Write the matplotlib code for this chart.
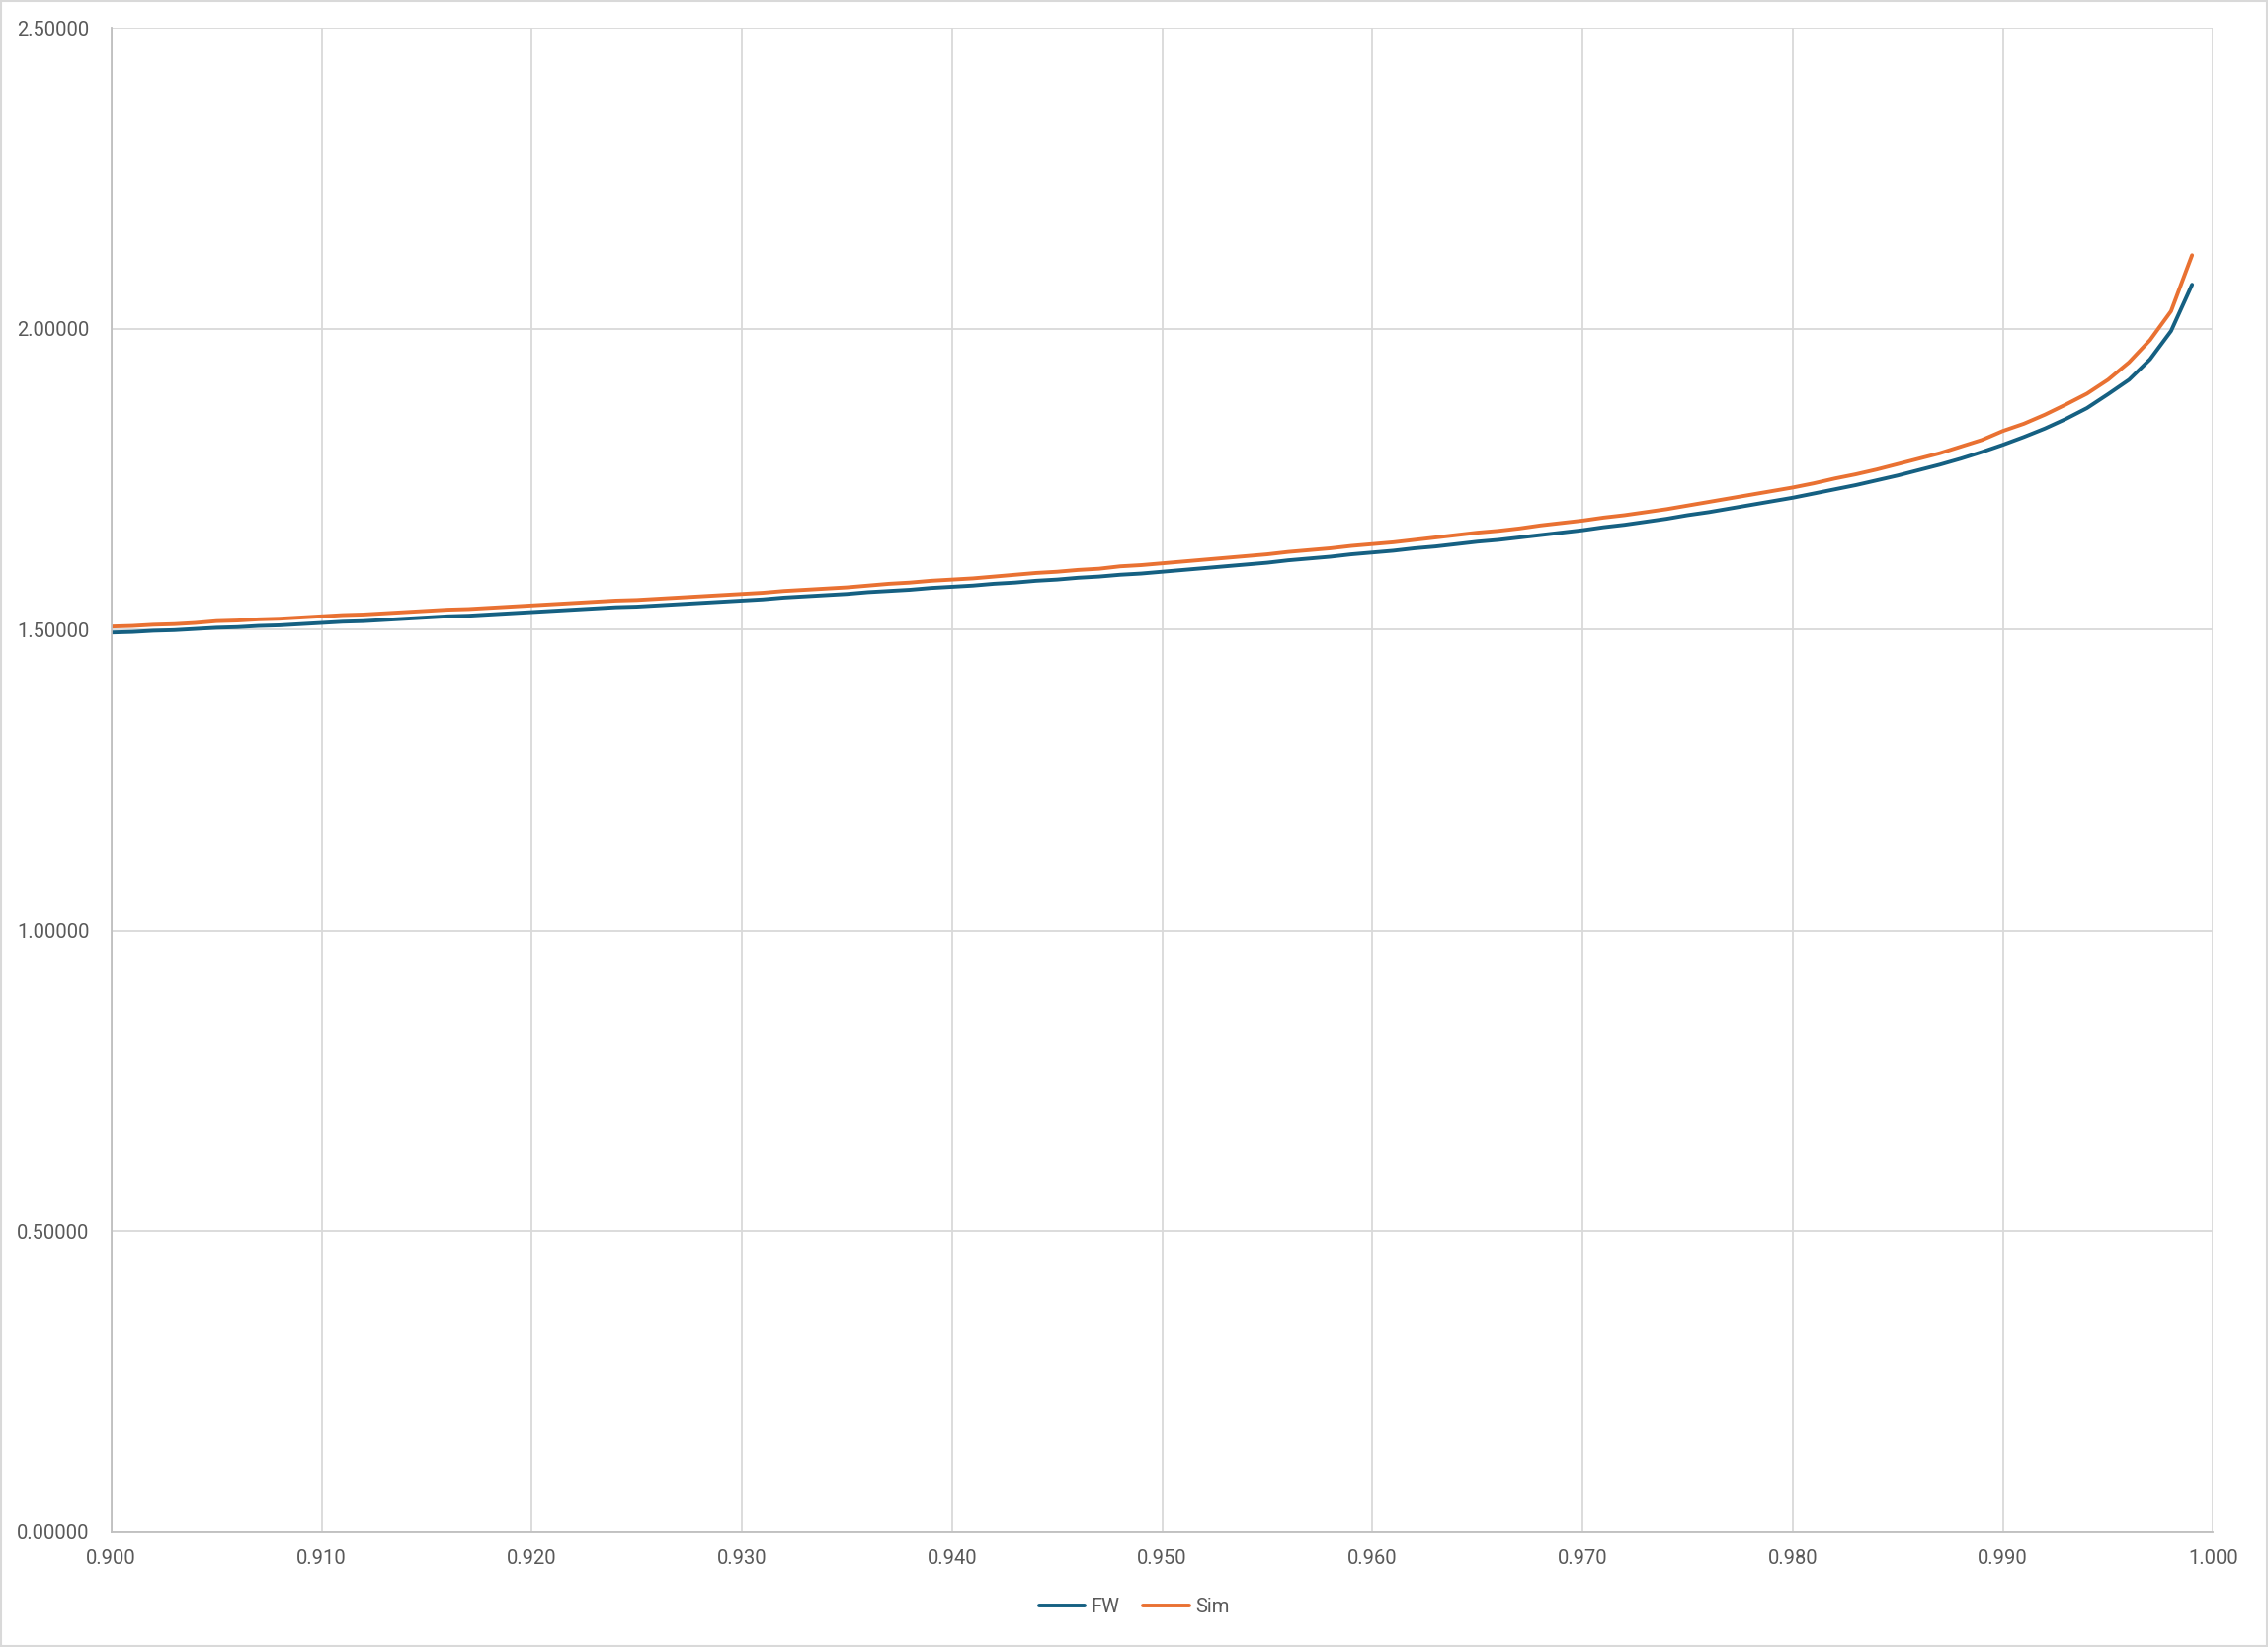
import numpy as np
import matplotlib
matplotlib.use("Agg")
import matplotlib.pyplot as plt
from matplotlib.patches import Rectangle
from matplotlib.ticker import FormatStrFormatter, MultipleLocator

# x values: 0.900 .. 0.999 step 0.001
x_vals = np.round(np.arange(900, 1000) / 1000.0, 3)

fw_vals = [
    1.495, 1.496, 1.498, 1.499, 1.501, 1.503, 1.504, 1.506, 1.507, 1.509,
    1.511, 1.513, 1.514, 1.516, 1.518, 1.520, 1.522, 1.523, 1.525, 1.527,
    1.529, 1.531, 1.533, 1.535, 1.537, 1.538, 1.540, 1.542, 1.544, 1.546,
    1.548, 1.550, 1.553, 1.555, 1.557, 1.559, 1.562, 1.564, 1.566, 1.569,
    1.571, 1.573, 1.576, 1.578, 1.581, 1.583, 1.586, 1.588, 1.591, 1.593,
    1.596, 1.599, 1.602, 1.605, 1.608, 1.611, 1.615, 1.618, 1.621, 1.625,
    1.628, 1.631, 1.635, 1.638, 1.642, 1.646, 1.649, 1.653, 1.657, 1.661,
    1.665, 1.670, 1.674, 1.679, 1.684, 1.690, 1.695, 1.701, 1.707, 1.713,
    1.719, 1.726, 1.733, 1.740, 1.748, 1.756, 1.765, 1.774, 1.784, 1.795,
    1.807, 1.820, 1.834, 1.850, 1.868, 1.891, 1.915, 1.949, 1.996, 2.073,
]

sim_vals = [
    1.505, 1.506, 1.508, 1.509, 1.511, 1.514, 1.515, 1.517, 1.518, 1.520,
    1.522, 1.524, 1.525, 1.527, 1.529, 1.531, 1.533, 1.534, 1.536, 1.538,
    1.540, 1.542, 1.544, 1.546, 1.548, 1.549, 1.551, 1.553, 1.555, 1.557,
    1.559, 1.561, 1.564, 1.566, 1.568, 1.570, 1.573, 1.576, 1.578, 1.581,
    1.583, 1.585, 1.588, 1.591, 1.594, 1.596, 1.599, 1.601, 1.605, 1.607,
    1.610, 1.613, 1.616, 1.619, 1.622, 1.625, 1.629, 1.632, 1.635, 1.639,
    1.642, 1.645, 1.649, 1.653, 1.657, 1.661, 1.664, 1.668, 1.673, 1.677,
    1.681, 1.686, 1.690, 1.695, 1.700, 1.706, 1.712, 1.718, 1.724, 1.730,
    1.736, 1.743, 1.751, 1.758, 1.766, 1.775, 1.784, 1.793, 1.804, 1.815,
    1.830, 1.842, 1.857, 1.874, 1.892, 1.915, 1.944, 1.981, 2.029, 2.122,
]

plt.rcParams['font.family'] = ['Roboto', 'DejaVu Sans']
text_color = '#595959'
grid_color = '#d9d9d9'

fig = plt.figure(figsize=(22.96, 16.67), dpi=100)
ax = fig.add_axes([0.0491, 0.0696, 0.9267, 0.9136])

ax.plot(x_vals, fw_vals, color='#156082', lw=2.8, label='FW', solid_capstyle='round')
ax.plot(x_vals, sim_vals, color='#E97132', lw=2.8, label='Sim', solid_capstyle='round')

ax.set_xlim(0.9, 1.0)
ax.set_ylim(0.0, 2.5)
ax.xaxis.set_major_locator(MultipleLocator(0.01))
ax.yaxis.set_major_locator(MultipleLocator(0.5))
ax.xaxis.set_major_formatter(FormatStrFormatter('%.3f'))
ax.yaxis.set_major_formatter(FormatStrFormatter('%.5f'))

ax.grid(True, color=grid_color, lw=1.3)
ax.set_axisbelow(True)
for side in ['top', 'right']:
    ax.spines[side].set_visible(False)
for side in ['left', 'bottom']:
    ax.spines[side].set_color('#bfbfbf')
    ax.spines[side].set_linewidth(1.3)

ax.tick_params(axis='both', length=0, labelsize=14.5, colors=text_color)
ax.tick_params(axis='y', pad=16)
ax.tick_params(axis='x', pad=12)

leg = fig.legend(loc='center', bbox_to_anchor=(0.5, 0.024), ncol=2, frameon=False,
                 fontsize=14.5, handlelength=2.3, columnspacing=1.2, handletextpad=0.3)
for t in leg.get_texts():
    t.set_color(text_color)

# chart area border
fig.patches.append(Rectangle((0.0005, 0.0007), 0.999, 0.9986, transform=fig.transFigure,
                             fill=False, edgecolor=grid_color, lw=1.5))

fig.savefig('out.png', dpi=100)
